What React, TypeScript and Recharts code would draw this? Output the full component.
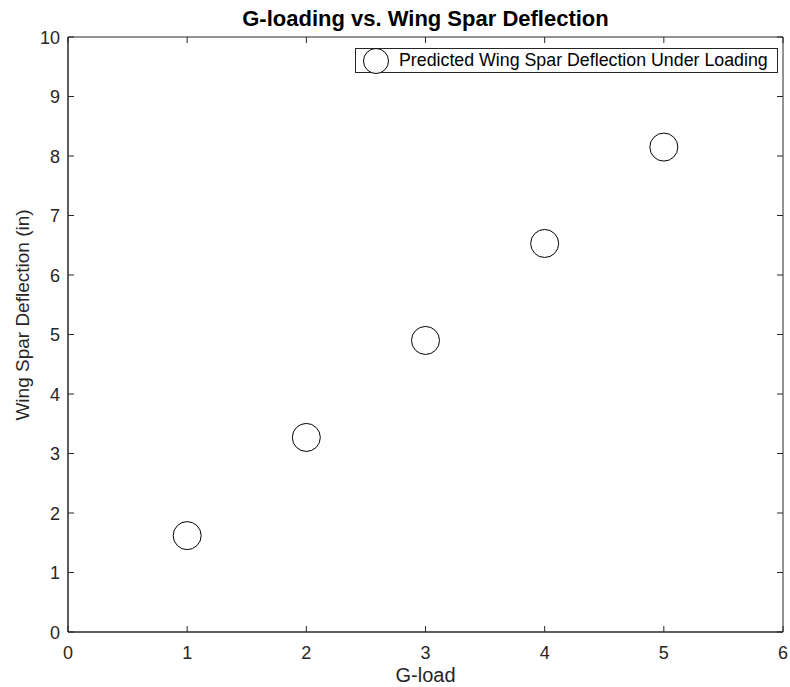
import React from 'react';
import {
  ScatterChart,
  Scatter,
  XAxis,
  YAxis,
  ReferenceArea,
  usePlotArea,
} from 'recharts';

const gLoads = [1, 2, 3, 4, 5];
const deflections = [1.62, 3.27, 4.9, 6.53, 8.15];
const xTicks = [0, 1, 2, 3, 4, 5, 6];
const yTicks = [0, 1, 2, 3, 4, 5, 6, 7, 8, 9, 10];

const seriesName = 'Predicted Wing Spar Deflection Under Loading';
const axisColor = '#262626';
const font = '"Liberation Sans", Arial, Helvetica, sans-serif';

const points = gLoads.map((g, i) => ({ g, d: deflections[i] }));

// ticks point inward on all four sides, like the MATLAB box
const XTick = (props: any) => {
  const area = usePlotArea();
  const { x, y, payload } = props;
  const top = area ? area.y : 37;
  return (
    <g>
      <line x1={x} y1={y} x2={x} y2={y - 6} stroke={axisColor} />
      <line x1={x} y1={top} x2={x} y2={top + 6} stroke={axisColor} />
      <text x={x} y={y + 27} textAnchor="middle" fontSize={18} fill={axisColor} fontFamily={font}>
        {payload.value}
      </text>
    </g>
  );
};

const YTick = (props: any) => {
  const area = usePlotArea();
  const { x, y, payload } = props;
  const right = area ? area.x + area.width : 783;
  return (
    <g>
      <line x1={x} y1={y} x2={x + 6} y2={y} stroke={axisColor} />
      <line x1={right} y1={y} x2={right - 6} y2={y} stroke={axisColor} />
      <text x={x - 8} y={y + 6.5} textAnchor="end" fontSize={18} fill={axisColor} fontFamily={font}>
        {payload.value}
      </text>
    </g>
  );
};

const Marker = (props: any) => (
  <circle cx={props.cx} cy={props.cy} r={14} fill="#fff" stroke="#000" strokeWidth={1} />
);

export default function App() {
  return (
    <div
      style={{
        position: 'absolute',
        top: 0,
        left: 0,
        width: 790,
        height: 687,
        overflow: 'hidden',
        fontFamily: font,
      }}
    >
      <ScatterChart width={790} height={687} margin={{ top: 37, right: 7, bottom: 0, left: 0 }}>
        <XAxis
          type="number"
          dataKey="g"
          domain={[0, 6]}
          ticks={xTicks}
          height={55}
          tickSize={0}
          tickMargin={0}
          stroke={axisColor}
          tick={<XTick />}
          interval={0}
        />
        <YAxis
          type="number"
          dataKey="d"
          domain={[0, 10]}
          ticks={yTicks}
          width={68}
          tickSize={0}
          tickMargin={0}
          stroke={axisColor}
          tick={<YTick />}
          interval={0}
        />
        <ReferenceArea x1={0} x2={6} y1={0} y2={10} fill="none" stroke={axisColor} strokeWidth={1} ifOverflow="visible" />
        <Scatter name={seriesName} data={points} shape={<Marker />} isAnimationActive={false} />
        <text x={425.5} y={26} textAnchor="middle" fontSize={22} fontWeight="bold" fill="#000" fontFamily={font}>
          G-loading vs. Wing Spar Deflection
        </text>
        <text x={425.5} y={682} textAnchor="middle" fontSize={20} fill={axisColor} fontFamily={font}>
          G-load
        </text>
        <text
          x={29}
          y={315}
          textAnchor="middle"
          fontSize={19}
          fill={axisColor}
          fontFamily={font}
          transform="rotate(-90 29 315)"
        >
          Wing Spar Deflection (in)
        </text>
      </ScatterChart>
      <div
        style={{
          position: 'absolute',
          left: 355,
          top: 48,
          width: 421,
          height: 23,
          border: '1px solid #262626',
          background: '#fff',
          display: 'flex',
          alignItems: 'center',
          fontSize: 17.8,
          color: '#000',
          whiteSpace: 'nowrap',
        }}
      >
        <svg width={43} height={26} style={{ flex: 'none' }}>
          <circle cx={20} cy={13} r={12.5} fill="#fff" stroke="#000" />
        </svg>
        <span>{seriesName}</span>
      </div>
    </div>
  );
}
